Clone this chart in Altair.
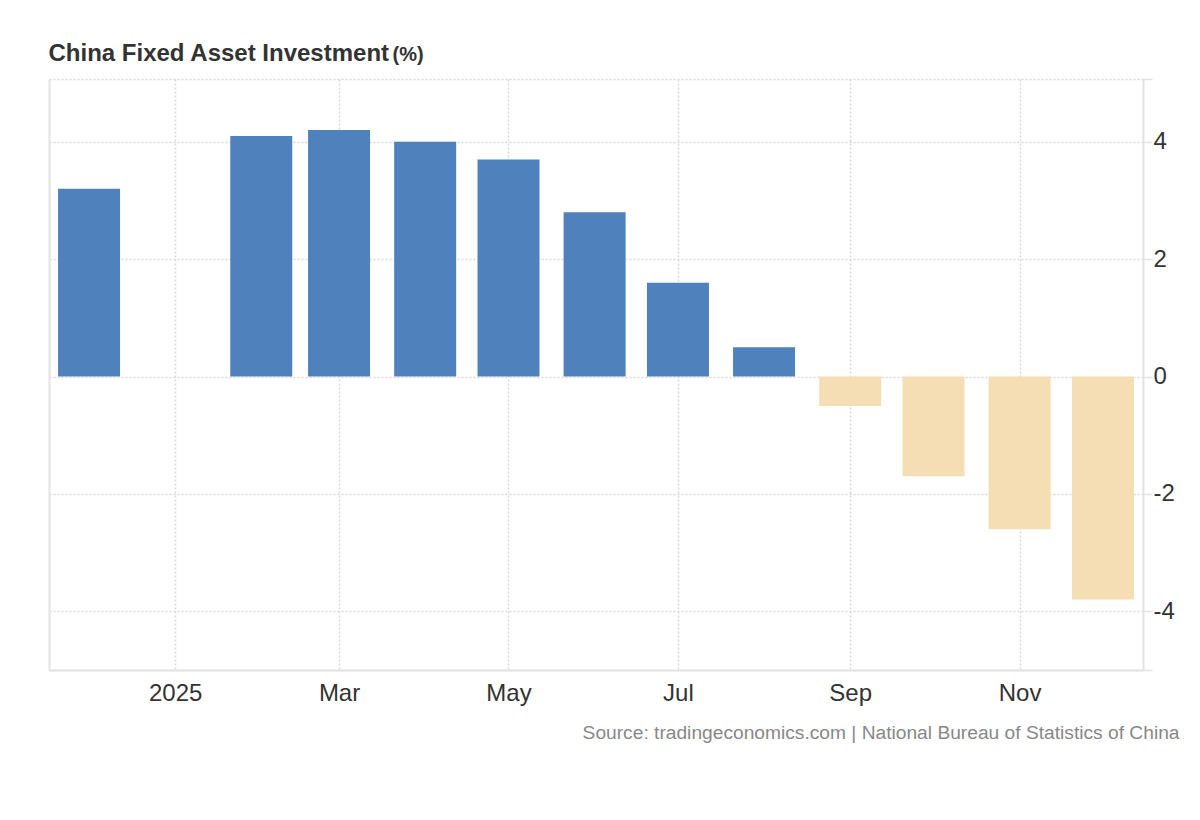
import altair as alt
import pandas as pd

# Data (YTD % change, bars dated at first of month)
dates = ["2024-12-01", "2025-02-01", "2025-03-01", "2025-04-01", "2025-05-01",
         "2025-06-01", "2025-07-01", "2025-08-01", "2025-09-01", "2025-10-01",
         "2025-11-01", "2025-12-01"]
values = [3.2, 4.1, 4.2, 4.0, 3.7, 2.8, 1.6, 0.5, -0.5, -1.7, -2.6, -3.8]

y_ticks = [-5, -4, -2, 0, 2, 4, 5.07]
x_tick_dates = [(2025, 1), (2025, 3), (2025, 5), (2025, 7), (2025, 9), (2025, 11)]

df = pd.DataFrame({"date": dates, "value": values})

FONT = "Liberation Sans"
BLUE = "#4F81BD"
WHEAT = "#F5DEB3"
LINE = "#e3e3e3"
GRID = "#d9d9d9"

x_scale = alt.Scale(
    type="utc",
    domain=[alt.DateTime(year=2024, month=11, date=16, hours=14, utc=True),
            alt.DateTime(year=2025, month=12, date=15, hours=10, utc=True)],
    padding=0,
)
y_scale = alt.Scale(domain=[-5, 5.07], nice=False)
x_values = [alt.DateTime(year=y, month=m, date=1, utc=True) for y, m in x_tick_dates]

x_enc = alt.X(
    "date:T",
    scale=x_scale,
    axis=alt.Axis(
        values=x_values,
        labelExpr="utcFormat(datum.value, '%m') == '01' ? utcFormat(datum.value, '%Y') : utcFormat(datum.value, '%b')",
        ticks=False,
        domainColor=LINE,
        domainWidth=2,
        grid=True,
        gridColor=GRID,
        gridDash=[2, 2],
        gridWidth=1.5,
        labelFont=FONT,
        labelFontSize=24,
        labelColor="#333333",
        labelPadding=11,
        title="Source: tradingeconomics.com | National Bureau of Statistics of China",
        titleFont=FONT,
        titleFontSize=19.2,
        titleFontWeight="normal",
        titleColor="#888888",
        titleAlign="right",
        titleBaseline="alphabetic",
        titleX=1130,
        titleY=68,
    ),
)

bars = alt.Chart(df).mark_bar(size=62).encode(
    x=x_enc,
    y=alt.Y(
        "value:Q",
        scale=y_scale,
        axis=alt.Axis(
            orient="right",
            values=y_ticks,
            labelExpr="abs(datum.value) > 4.5 ? '' : '' + datum.value",
            tickSize=9,
            tickColor=LINE,
            tickWidth=1.5,
            domainColor=LINE,
            domainWidth=2,
            grid=True,
            gridColor=GRID,
            gridDash=[2, 2],
            gridWidth=1.5,
            labelFont=FONT,
            labelFontSize=24,
            labelColor="#333333",
            labelPadding=1,
            labelAlign="left",
            title=None,
        ),
    ),
    color=alt.condition(alt.datum.value >= 0, alt.value(BLUE), alt.value(WHEAT)),
)

# left frame line + "(%)" unit label
left = alt.Chart(df).mark_point(opacity=0).encode(
    x=alt.X("date:T", scale=x_scale, axis=None),
    y=alt.Y(
        "value:Q",
        scale=y_scale,
        axis=alt.Axis(
            orient="left",
            labels=False,
            ticks=False,
            grid=False,
            domainColor=LINE,
            domainWidth=2,
            title="(%)",
            titleFont=FONT,
            titleFontSize=20,
            titleFontWeight="bold",
            titleColor="#333333",
            titleAngle=0,
            titleAlign="left",
            titleBaseline="alphabetic",
            titleX=343,
            titleY=-19,
        ),
    ),
)

# chart title, carried by a top axis so it can sit at an exact spot
top = alt.Chart(df).mark_point(opacity=0).encode(
    x=alt.X(
        "date:T",
        scale=x_scale,
        axis=alt.Axis(
            orient="top",
            labels=False,
            ticks=False,
            grid=False,
            domain=False,
            title="China Fixed Asset Investment",
            titleFont=FONT,
            titleFontSize=24,
            titleFontWeight="bold",
            titleColor="#333333",
            titleAlign="left",
            titleAnchor="start",
            titleBaseline="alphabetic",
            titleX=-1,
            titleY=-19,
        ),
    ),
)

chart = alt.layer(bars, left, top).resolve_axis(x="independent", y="independent").properties(
    width=1094,
    height=591,
    autosize=alt.AutoSizeParams(type="none"),
    padding={"left": 41, "top": 71, "right": 49, "bottom": 80},
).configure_view(strokeWidth=0)

chart.save("out.html", embed_options={"renderer": "svg", "actions": False})
